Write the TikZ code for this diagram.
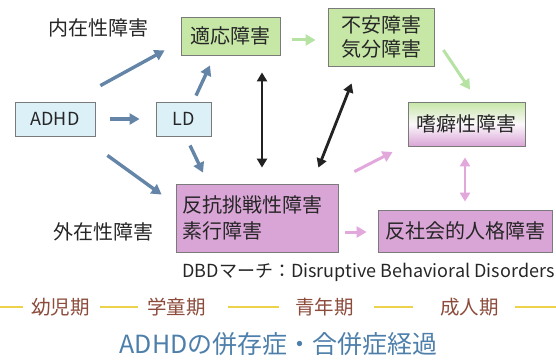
\documentclass[tikz,border=0pt]{standalone}
\usepackage{fontspec}
\setmainfont{Noto Sans CJK JP}
\usetikzlibrary{arrows.meta}
\definecolor{bfill}{HTML}{DCF0F8}
\definecolor{gfill}{HTML}{C6E7A6}
\definecolor{pfill}{HTML}{D9A5D6}
\definecolor{barrow}{HTML}{6485A8}
\definecolor{garrow}{HTML}{B6E3A4}
\definecolor{parrow}{HTML}{E2A8DC}
\definecolor{karrow}{HTML}{222222}
\definecolor{ttl}{HTML}{4D7FAA}
\definecolor{tline}{HTML}{EDD24C}
\definecolor{tlabel}{HTML}{8C4B3B}
\definecolor{bord}{HTML}{7A7A7A}
\tikzset{
  box/.style={draw=bord, line width=0.8pt, inner sep=0pt, align=center, text=black!85, font=\fontsize{20}{24}\selectfont},
  bluebox/.style={box, fill=bfill},
  greenbox/.style={box, fill=gfill},
  pinkbox/.style={box, fill=pfill},
  arr/.style={line width=3.4pt, -{Triangle[length=10pt,width=11pt]}},
  darr/.style={line width=2.8pt, {Triangle[length=9pt,width=10pt]}-{Triangle[length=9pt,width=10pt]}},
  barr/.style={arr, draw=barrow},
  garr/.style={arr, draw=garrow, line width=3pt},
  parr/.style={arr, draw=parrow, line width=3pt},
  pdarr/.style={darr, draw=parrow},
  karr/.style={darr, draw=karrow},
  lbl/.style={font=\fontsize{20}{22}\selectfont, text=black!85, inner sep=0pt},
  tl/.style={font=\fontsize{19.5}{21}\selectfont, text=tlabel, inner sep=0pt},
  tlin/.style={draw=tline, line width=2.5pt}
}
\begin{document}
\begin{tikzpicture}[x=1pt,y=-1pt]
\useasboundingbox (0,0) rectangle (556,361);
% boxes
\node[bluebox, minimum width=80pt, minimum height=34pt, font=\fontsize{18}{20}\selectfont] (adhd) at (55,119) {ADHD};
\node[bluebox, minimum width=55pt, minimum height=34pt, font=\fontsize{18}{20}\selectfont] (ld) at (183.5,119) {LD};
\node[greenbox, minimum width=99pt, minimum height=38pt] (tekio) at (230.5,36) {適応障害};
\node[greenbox, minimum width=106pt, minimum height=58pt] (fuan) at (381,37) {不安障害\\気分障害};
\node[box, top color=gfill, bottom color=pfill, middle color=white!92!pfill, minimum width=117pt, minimum height=44pt] (shiheki) at (466.5,124) {嗜癖性障害};
\node[pinkbox, minimum width=162pt, minimum height=68pt, align=left, text width=150pt, font=\fontsize{20}{26}\selectfont] (hankou) at (257,218) {反抗挑戦性障害\\素行障害};
\node[pinkbox, minimum width=174pt, minimum height=42pt] (hanshakai) at (465,231) {反社会的人格障害};
% labels
\node[lbl] (naizai) at (98.5,27.5) {内在性障害};
\node[lbl] (gaizai) at (103.5,231.5) {外在性障害};
\node[inner sep=0pt, font=\fontsize{18}{20}\selectfont, text=black!85] (dbd) at (368.5,272) {DBDマーチ：Disruptive Behavioral Disorders};
% arrows
\draw[barr] ([shift={(5,-16)}]adhd.north east) -- ([shift={(-16,-5)}]tekio.south west);
\draw[barr] ([shift={(15,0)}]adhd.east) -- ([shift={(-16,0)}]ld.west);
\draw[barr] ([shift={(12,19)}]adhd.south east) -- ([shift={(-14,11)}]hankou.north west);
\draw[barr] ([shift={(12.5,-6)}]ld.north) -- ([shift={(-20.5,10)}]tekio.south);
\draw[barr] ([shift={(6.5,9)}]ld.south) -- ([shift={(-54,-11)}]hankou.north);
\draw[karr] ([shift={(31.5,17)}]tekio.south) -- ([shift={(5,-16)}]hankou.north);
\draw[karr] ([shift={(24,17)}]fuan.south west) -- ([shift={(-20,-16)}]hankou.north east);
\draw[garr] ([shift={(12,4)}]tekio.east) -- ([shift={(-12,3)}]fuan.west);
\draw[garr] ([shift={(9,13)}]fuan.east) -- ([shift={(3.5,-12)}]shiheki.north);
\draw[parr] ([shift={(16,-12)}]hankou.north east) -- ([shift={(-15,28)}]shiheki.west);
\draw[pdarr] ([shift={(-1.5,11)}]shiheki.south) -- ([shift={(0,-8)}]hanshakai.north);
\draw[parr] ([shift={(7,14)}]hankou.east) -- ([shift={(-11,1)}]hanshakai.west);
% timeline
\node[tl] (t1) at (60.5,307) {幼児期};
\node[tl] (t2) at (176.5,307) {学童期};
\node[tl] (t3) at (324.5,307) {青年期};
\node[tl] (t4) at (469.5,307) {成人期};
\draw[tlin] (0,307) -- (23,307);
\draw[tlin] (100,307) -- (138,307);
\draw[tlin] (228,307) -- (279,307);
\draw[tlin] (374,307) -- (413,307);
\draw[tlin] (515,307) -- (556,307);
% title
\node[inner sep=0pt, font=\fontsize{25}{27}\selectfont, text=ttl] (title) at (278.5,344) {ADHDの併存症・合併症経過};
\end{tikzpicture}
\end{document}
